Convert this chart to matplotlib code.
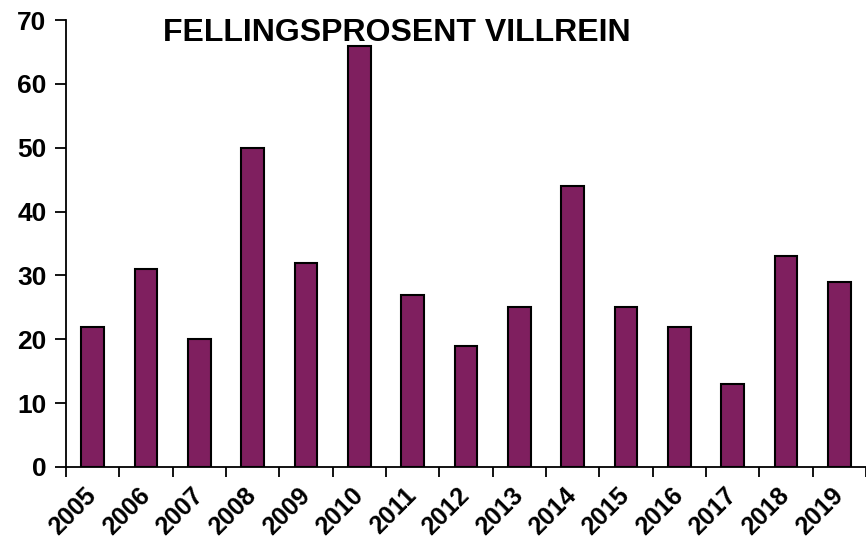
import numpy as np
import matplotlib.pyplot as plt

years = ['2005', '2006', '2007', '2008', '2009', '2010', '2011', '2012',
         '2013', '2014', '2015', '2016', '2017', '2018', '2019']
prosent = [22, 31, 20, 50, 32, 66, 27, 19, 25, 44, 25, 22, 13, 33, 29]

plt.rcParams['font.family'] = ['Liberation Sans', 'DejaVu Sans']

fig = plt.figure(figsize=(8.66, 5.48), dpi=100)
ax = fig.add_axes([66 / 866, 1 - 467 / 548, 1 - 66 / 866, (467 - 20) / 548])

x = np.arange(len(years))
ax.bar(x, prosent, width=0.43, color='#7F1F5F', edgecolor='black', linewidth=1.5, zorder=2)

ax.set_xlim(-0.5, len(years) - 0.5)
ax.set_ylim(0, 70)
ax.set_yticks(range(0, 71, 10))
ax.set_yticklabels([str(v) for v in range(0, 71, 10)], fontsize=19, fontweight='bold')

# labels at bar centres, tick marks at category borders
ax.set_xticks(x)
ax.set_xticklabels(years, rotation=45, ha='right', va='center', rotation_mode='anchor',
                   fontsize=18, fontweight='bold')
ax.set_xticks(np.arange(-0.5, len(years)), minor=True)
ax.tick_params(axis='x', which='major', length=0, pad=18)
ax.tick_params(axis='x', which='minor', length=7, width=1.3, direction='out')
ax.tick_params(axis='y', length=8, width=1.3, direction='out', pad=6)

for s in ['top', 'right']:
    ax.spines[s].set_visible(False)
for s in ['left', 'bottom']:
    ax.spines[s].set_linewidth(1.3)

ax.text(0.413, 0.97, 'FELLINGSPROSENT VILLREIN', transform=ax.transAxes,
        ha='center', va='center', fontsize=23, fontweight='bold')

fig.savefig('out.png', dpi=100)
